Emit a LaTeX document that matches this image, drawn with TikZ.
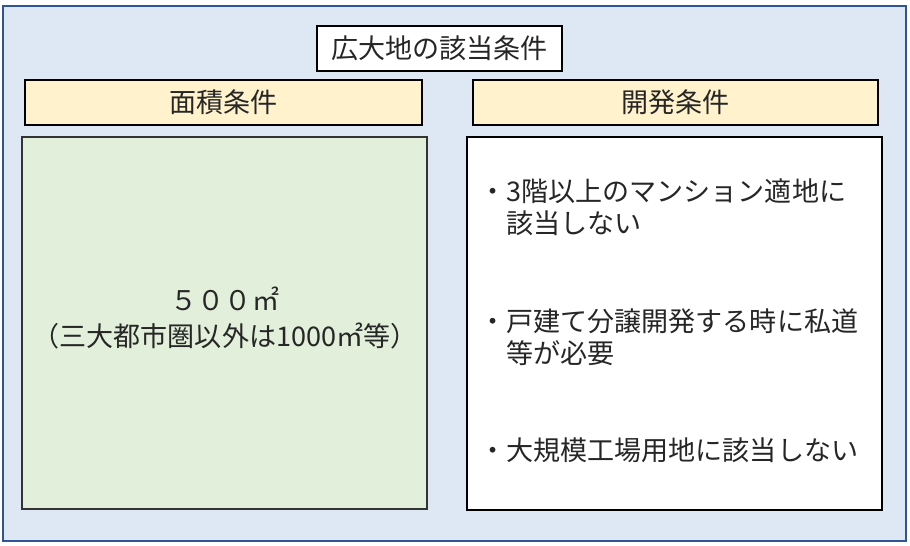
\documentclass[tikz,border=0pt]{standalone}
\usepackage{fontspec}
\usepackage{xcolor}
\usepackage{tikz}
\usetikzlibrary{positioning}
\setmainfont{Noto Sans CJK JP}
\definecolor{frameBlue}{HTML}{2F5597}
\definecolor{paleBlue}{HTML}{DEE7F4}
\definecolor{headYellow}{HTML}{FFF2CC}
\definecolor{areaGreen}{HTML}{E2EFDA}

\begin{document}
\begin{tikzpicture}[
        font=\fontsize{15.4}{21}\selectfont,
        box/.style={draw=black, line width=1.1pt, inner sep=0pt},
        headbox/.style={box, fill=headYellow, minimum height=0.9cm},
        itemtext/.style={anchor=west, align=left, inner sep=0pt, text=black!85,
            font=\fontsize{15.4}{18}\selectfont}
    ]
        \useasboundingbox (0,0) rectangle (18.2,-10.92);

        % outer frame
        \draw[frameBlue, fill=paleBlue, line width=1pt] (0.06,-0.12) rectangle (18.12,-10.82);

        % title
        \node[box, fill=white, minimum width=4.9cm, minimum height=0.9cm, text=black!85]
            (title) at (8.79,-0.97) {広大地の該当条件};

        % headers
        \node[headbox, minimum width=7.94cm, text=black!85] (areahead) at (4.47,-2.05) {面積条件};
        \node[headbox, minimum width=8.1cm, text=black!85] (devhead) at (13.51,-2.05) {開発条件};

        % content boxes
        \node[box, draw=black!80, fill=areaGreen, minimum width=8.1cm, minimum height=7.44cm]
            (areabox) at (4.49,-6.46) {};
        \node[box, fill=white, minimum width=8.3cm, minimum height=7.46cm]
            (devbox) at (13.49,-6.47) {};

        % area condition
        \node[align=center, text=black!85] (areatext) at (4.5,-6.36)
            {５００㎡\\（三大都市圏以外は1000㎡等）};

        % development conditions
        \node[itemtext] (item1) at (9.58,-4.14)
            {・3階以上のマンション適地に\\\phantom{・}該当しない};
        \node[itemtext] (item2) at (9.58,-6.74)
            {・戸建て分譲開発する時に私道\\\phantom{・}等が必要};
        \node[itemtext] (item3) at (9.58,-9.0)
            {・大規模工場用地に該当しない};
    \end{tikzpicture}
\end{document}
